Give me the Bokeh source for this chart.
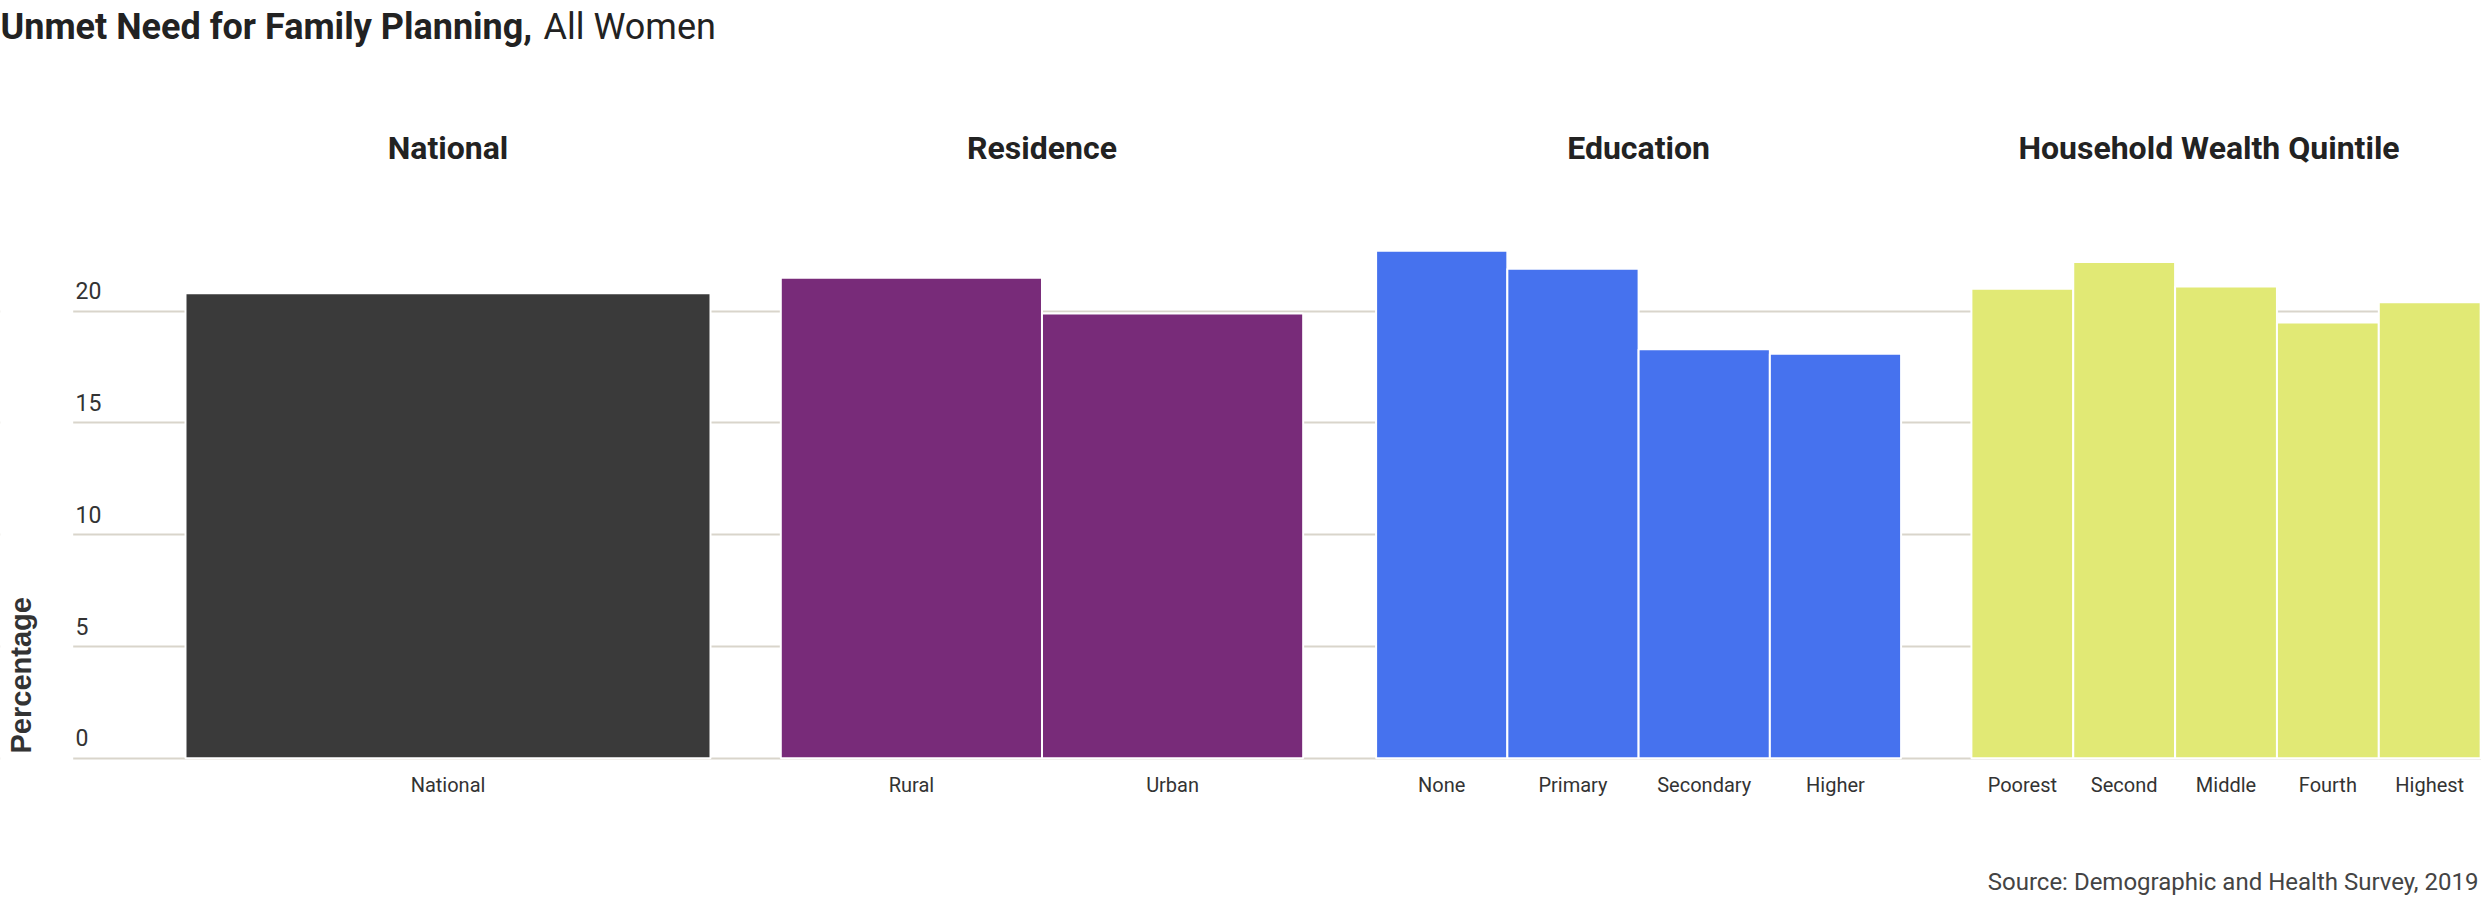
import math
from bokeh.plotting import figure
from bokeh.layouts import column
from bokeh.models import ColumnDataSource, FixedTicker, Range1d, Grid, BoxAnnotation
from bokeh.core.properties import value
from bokeh.embed import file_html
from bokeh.resources import INLINE

# ---------------- data ----------------
group_names = ["National", "Residence", "Education", "Household Wealth Quintile"]
national_labels = ["National"]
national_values = [20.8]
residence_labels = ["Rural", "Urban"]
residence_values = [21.5, 19.9]
education_labels = ["None", "Primary", "Secondary", "Higher"]
education_values = [22.7, 21.9, 18.3, 18.1]
wealth_labels = ["Poorest", "Second", "Middle", "Fourth", "Highest"]
wealth_values = [21.0, 22.2, 21.1, 19.5, 20.4]
y_tick_values = [0, 5, 10, 15, 20]
y_tick_labels = ["0", "5", "10", "15", "20"]
title_bold = "Unmet Need for Family Planning,"
title_regular = "All Women"
y_axis_title = "Percentage"
source_note = "Source: Demographic and Health Survey, 2019"

# ---------------- layout / style ----------------
W = 2481
MAIN_H = 830
SRC_H = 902 - MAIN_H
FRAME_BOTTOM = 760
GRID_START_PX = 72.7
ZERO_PX = 757.7
PX_PER_UNIT = 22.35
GROUP_PX = 525.0
FIRST_GROUP_PX = 185.0
GROUP_PITCH = 595.3 / 525.0
GROUP_SPAN = [1.0, 0.995, 1.0, 0.97]
HEADER_SHIFT_PX = [0, 0, 0, -17]
COLORS = ["#3a3a3a", "#782b79", "#4672ee", "#e1e975"]
GRID_COLOR = "#d9d5cb"
TEXT_DARK = "#222222"
TEXT_MID = "#333333"
SHIFT_EM = 0.36  # baseline compensation for rendered text


def cx(px):
    return (px - FIRST_GROUP_PX) / GROUP_PX


def cy(py):
    return (ZERO_PX - py) / PX_PER_UNIT


groups = [
    (national_labels, national_values),
    (residence_labels, residence_values),
    (education_labels, education_values),
    (wealth_labels, wealth_values),
]

xs, tops, widths, colors, cats = [], [], [], [], []
centers = []
for g, ((labs, vals), span, col) in enumerate(zip(groups, GROUP_SPAN, COLORS)):
    start = g * GROUP_PITCH
    n = len(labs)
    centers.append(start + span / 2 + HEADER_SHIFT_PX[g] / GROUP_PX)
    for i, (lab, v) in enumerate(zip(labs, vals)):
        xs.append(start + (i + 0.5) * span / n)
        widths.append(span / n)
        tops.append(v)
        colors.append(col)
        cats.append(lab)

src = ColumnDataSource(dict(x=xs, top=tops, w=widths, color=colors, cat=cats))

p = figure(
    width=W, height=MAIN_H,
    x_range=Range1d(cx(0), cx(W)),
    y_range=Range1d(cy(FRAME_BOTTOM), cy(0)),
    min_border_left=0, min_border_right=0,
    min_border_top=0, min_border_bottom=MAIN_H - FRAME_BOTTOM,
    toolbar_location=None, output_backend="svg",
    y_axis_location=None, title=None,
)
p.outline_line_color = None
p.background_fill_color = "white"
p.border_fill_color = "white"

for gr in p.grid:
    gr.visible = False
p.add_layout(Grid(dimension=1, ticker=FixedTicker(ticks=y_tick_values),
                  grid_line_color=GRID_COLOR, grid_line_width=2), "center")
# keep the gridlines clear of the axis-title gutter
p.add_layout(BoxAnnotation(left=cx(0), right=cx(GRID_START_PX),
                           bottom=cy(FRAME_BOTTOM), top=cy(0),
                           fill_color="white", fill_alpha=1.0,
                           line_color=None, level="underlay"))

p.vbar(x="x", top="top", width="w", bottom=0, fill_color="color",
       line_color="white", line_width=2, source=src)

ax = p.xaxis[0]
ax.ticker = FixedTicker(ticks=xs)
ax.major_label_overrides = {x: c for x, c in zip(xs, cats)}
ax.axis_line_color = None
ax.major_tick_line_color = None
ax.minor_tick_line_color = None
ax.major_tick_out = 0
ax.major_tick_in = 0
ax.major_label_standoff = 12
ax.major_label_text_font = "Roboto"
ax.major_label_text_font_size = "20px"
ax.major_label_text_color = TEXT_MID

# y tick labels sitting above the gridlines
p.text(x=[cx(75)] * len(y_tick_values), y=y_tick_values, text=y_tick_labels,
       y_offset=-12 - SHIFT_EM * 23, text_align="left", text_baseline="alphabetic",
       text_font=value("Roboto"), text_font_size="23px", text_color=TEXT_MID)

# group headers
p.text(x=centers, y=[cy(159 - SHIFT_EM * 32)] * len(centers), text=group_names,
       text_align="center", text_baseline="alphabetic",
       text_font=value("Roboto"), text_font_style="bold",
       text_font_size="32px", text_color=TEXT_DARK)

# title (bold part + regular part)
p.text(x=[cx(0)], y=[cy(39 - SHIFT_EM * 36)], text=[title_bold],
       text_align="left", text_baseline="alphabetic",
       text_font=value("Roboto"), text_font_style="bold",
       text_font_size="36px", text_color=TEXT_DARK)
p.text(x=[cx(543)], y=[cy(39 - SHIFT_EM * 36)], text=[title_regular],
       text_align="left", text_baseline="alphabetic",
       text_font=value("Roboto"), text_font_size="36px", text_color=TEXT_DARK)

# y axis title, rotated
p.text(x=[cx(31 - SHIFT_EM * 29)], y=[cy(753)], text=[y_axis_title], angle=math.pi / 2,
       text_align="left", text_baseline="alphabetic",
       text_font=value("Liberation Sans"), text_font_style="bold",
       text_font_size="29px", text_color=TEXT_MID)

# source strip
s = figure(
    width=W, height=SRC_H,
    x_range=Range1d(0, W), y_range=Range1d(0, SRC_H),
    min_border_left=0, min_border_right=0, min_border_top=0, min_border_bottom=0,
    toolbar_location=None, output_backend="svg",
    x_axis_location=None, y_axis_location=None, title=None,
)
s.outline_line_color = None
for gr in s.grid:
    gr.visible = False
s.text(x=[2478], y=[12 + SHIFT_EM * 24], text=[source_note],
       text_align="right", text_baseline="alphabetic",
       text_font=value("Roboto"), text_font_size="24px", text_color="#444444")

layout = column(p, s, spacing=0)
open("out.html", "w").write(file_html(layout, INLINE))
